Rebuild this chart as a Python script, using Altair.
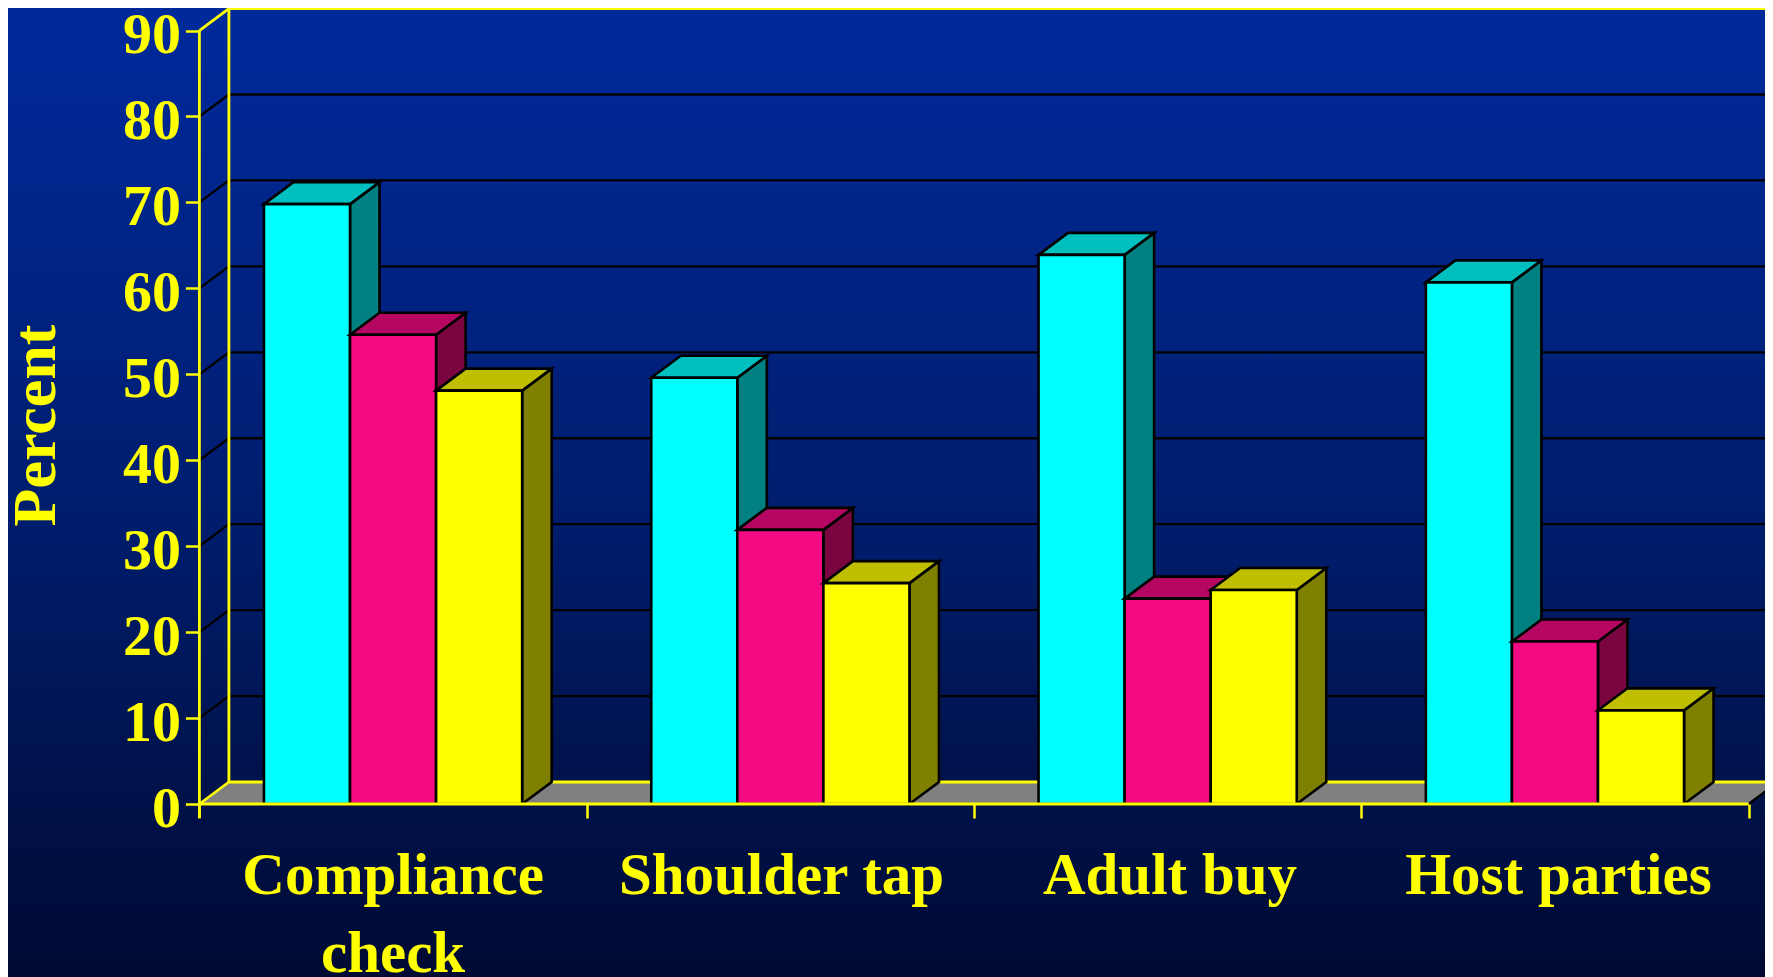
import altair as alt
import pandas as pd

categories = ["Compliance\ncheck", "Shoulder tap", "Adult buy", "Host parties"]
series_a = [69.8, 49.6, 63.9, 60.7]
series_b = [54.6, 31.9, 23.9, 18.9]
series_c = [48.1, 25.7, 24.9, 10.9]
y_ticks = [0, 10, 20, 30, 40, 50, 60, 70, 80, 90]
x_ticks = [0, 1, 2, 3, 4]
front_colors = ["#00FFFF", "#F40A82", "#FFFF00"]
top_colors = ["#00BFBF", "#B50761", "#BFBF00"]
side_colors = ["#008080", "#7A0541", "#808000"]

W, H = 1757, 969
PX_CAT, PX_PCT = 387.3, 8.594
X0, Y0 = 191.4, 796.0
DX, DY = 29.5 / PX_CAT, 22.0 / PX_PCT
YELLOW = "#FFFF00"
FONT = "Liberation Serif"

xs = alt.Scale(domain=[-X0 / PX_CAT, (W - X0) / PX_CAT], range=[0, W], nice=False, zero=False)
ys = alt.Scale(domain=[-(H - Y0) / PX_PCT, Y0 / PX_PCT], range=[H, 0], nice=False, zero=False)

x_axis_def = alt.Axis(
    values=x_ticks, offset=-(H - Y0), domain=False, grid=False, labels=False,
    title=None, zindex=1, tickColor=YELLOW, tickWidth=2.5, tickSize=14,
)
y_axis_def = alt.Axis(
    values=y_ticks, offset=-X0, domain=False, grid=False, zindex=1,
    tickColor=YELLOW, tickWidth=2.5, tickSize=14,
    labelColor=YELLOW, labelFont=FONT, labelFontSize=58, labelFontWeight="bold",
    labelPadding=5, labelBaseline="middle", labelOffset=5,
    title="Percent", titleColor=YELLOW, titleFont=FONT, titleFontSize=62,
    titleFontWeight="bold", titleAngle=270, titleAlign="center",
    titleBaseline="alphabetic", titleX=46.5 - X0, titleY=417,
)


def X():
    return alt.X("x:Q", scale=xs, axis=x_axis_def)


def Y(**kw):
    return alt.Y("y:Q", scale=ys, axis=y_axis_def, **kw)


# --- background
bg = alt.Chart(pd.DataFrame({"a": [1]})).mark_rect(
    color=alt.Gradient(
        gradient="linear",
        x1=0, x2=0, y1=0, y2=1,
        stops=[
            alt.GradientStop(color="#00299B", offset=0),
            alt.GradientStop(color="#001E70", offset=0.5),
            alt.GradientStop(color="#000A33", offset=1),
        ],
    )
).encode(x=alt.value(0), x2=alt.value(W), y=alt.value(0), y2=alt.value(H))

# --- floor
floor_df = pd.DataFrame(
    {"x": [0, DX, 4, 4 + DX], "y": [0, DY, DY, DY], "y2": [0, 0, 0, DY]}
)
floor = alt.Chart(floor_df).mark_area(color="#808080").encode(
    x=X(), y=Y(stack=None), y2="y2:Q"
)
floor_edge = alt.Chart(pd.DataFrame({"x": [4], "x2": [4 + DX], "y": [0], "y2": [DY]})).mark_rule(
    color="black", strokeWidth=2.4
).encode(x=X(), x2="x2:Q", y=Y(), y2="y2:Q")

# --- walls and grid
grid_rows = [{"x": DX, "x2": 4 + DX, "y": v + DY, "y2": v + DY} for v in y_ticks[1:-1]]
grid_rows += [{"x": 0, "x2": DX, "y": v, "y2": v + DY} for v in y_ticks[1:-1]]
grid = alt.Chart(pd.DataFrame(grid_rows)).mark_rule(color="black", strokeWidth=2.3).encode(
    x=X(), x2="x2:Q", y=Y(), y2="y2:Q"
)

wall_rows = [
    {"x": 0, "x2": 0, "y": 90, "y2": -14 / PX_PCT},
    {"x": DX, "x2": DX, "y": DY, "y2": 90 + DY},
    {"x": DX, "x2": 4 + DX, "y": 90 + DY, "y2": 90 + DY},
    {"x": 0, "x2": DX, "y": 90, "y2": 90 + DY},
    {"x": 0, "x2": DX, "y": 0, "y2": DY},
    {"x": DX, "x2": 4 + DX, "y": DY, "y2": DY},
]
walls = alt.Chart(pd.DataFrame(wall_rows)).mark_rule(color=YELLOW, strokeWidth=2.8).encode(
    x=X(), x2="x2:Q", y=Y(), y2="y2:Q"
)

# --- bars, drawn back to front face by face
rows = []
for i in range(len(categories)):
    for j, vals in enumerate([series_a, series_b, series_c]):
        v = vals[i]
        a = i + 1 / 6 + j * 2 / 9
        b = a + 2 / 9
        fid = f"{i}-{j}"
        rows += [
            {"id": fid + "s", "c": side_colors[j], "x": b, "y": v, "y2": 0},
            {"id": fid + "s", "c": side_colors[j], "x": b + DX, "y": v + DY, "y2": DY},
            {"id": fid + "t", "c": top_colors[j], "x": a, "y": v, "y2": v},
            {"id": fid + "t", "c": top_colors[j], "x": a + DX, "y": v + DY, "y2": v},
            {"id": fid + "t", "c": top_colors[j], "x": b, "y": v + DY, "y2": v},
            {"id": fid + "t", "c": top_colors[j], "x": b + DX, "y": v + DY, "y2": v + DY},
            {"id": fid + "f", "c": front_colors[j], "x": a, "y": v, "y2": 0},
            {"id": fid + "f", "c": front_colors[j], "x": b, "y": v, "y2": 0},
        ]
bars = alt.Chart(pd.DataFrame(rows)).mark_area(stroke="black", strokeWidth=2.6, strokeJoin="miter").encode(
    x=X(), y=Y(stack=None), y2="y2:Q",
    detail="id:N",
    color=alt.Color("c:N", scale=None),
)

# --- x axis line and labels
x_line = alt.Chart(pd.DataFrame({"x": [0], "x2": [4], "y": [0]})).mark_rule(
    color=YELLOW, strokeWidth=2.8
).encode(x=X(), x2="x2:Q", y=Y())

label_df = pd.DataFrame({"x": [i * 1.003 + 0.5 for i in range(len(categories))], "label": categories})
labels = alt.Chart(label_df).mark_text(
    color=YELLOW, font=FONT, fontSize=59, fontWeight="bold", align="center",
    baseline="alphabetic", lineBreak="\n", lineHeight=78,
).encode(x=X(), y=alt.value(886), text="label:N")

chart = alt.layer(bg, floor, floor_edge, grid, walls, bars, x_line, labels).properties(
    width=W, height=H, padding=0, autosize=alt.AutoSizeParams(type="none")
).configure_view(stroke=None)

chart.save("out.html", embed_options={"renderer": "svg", "actions": False})
